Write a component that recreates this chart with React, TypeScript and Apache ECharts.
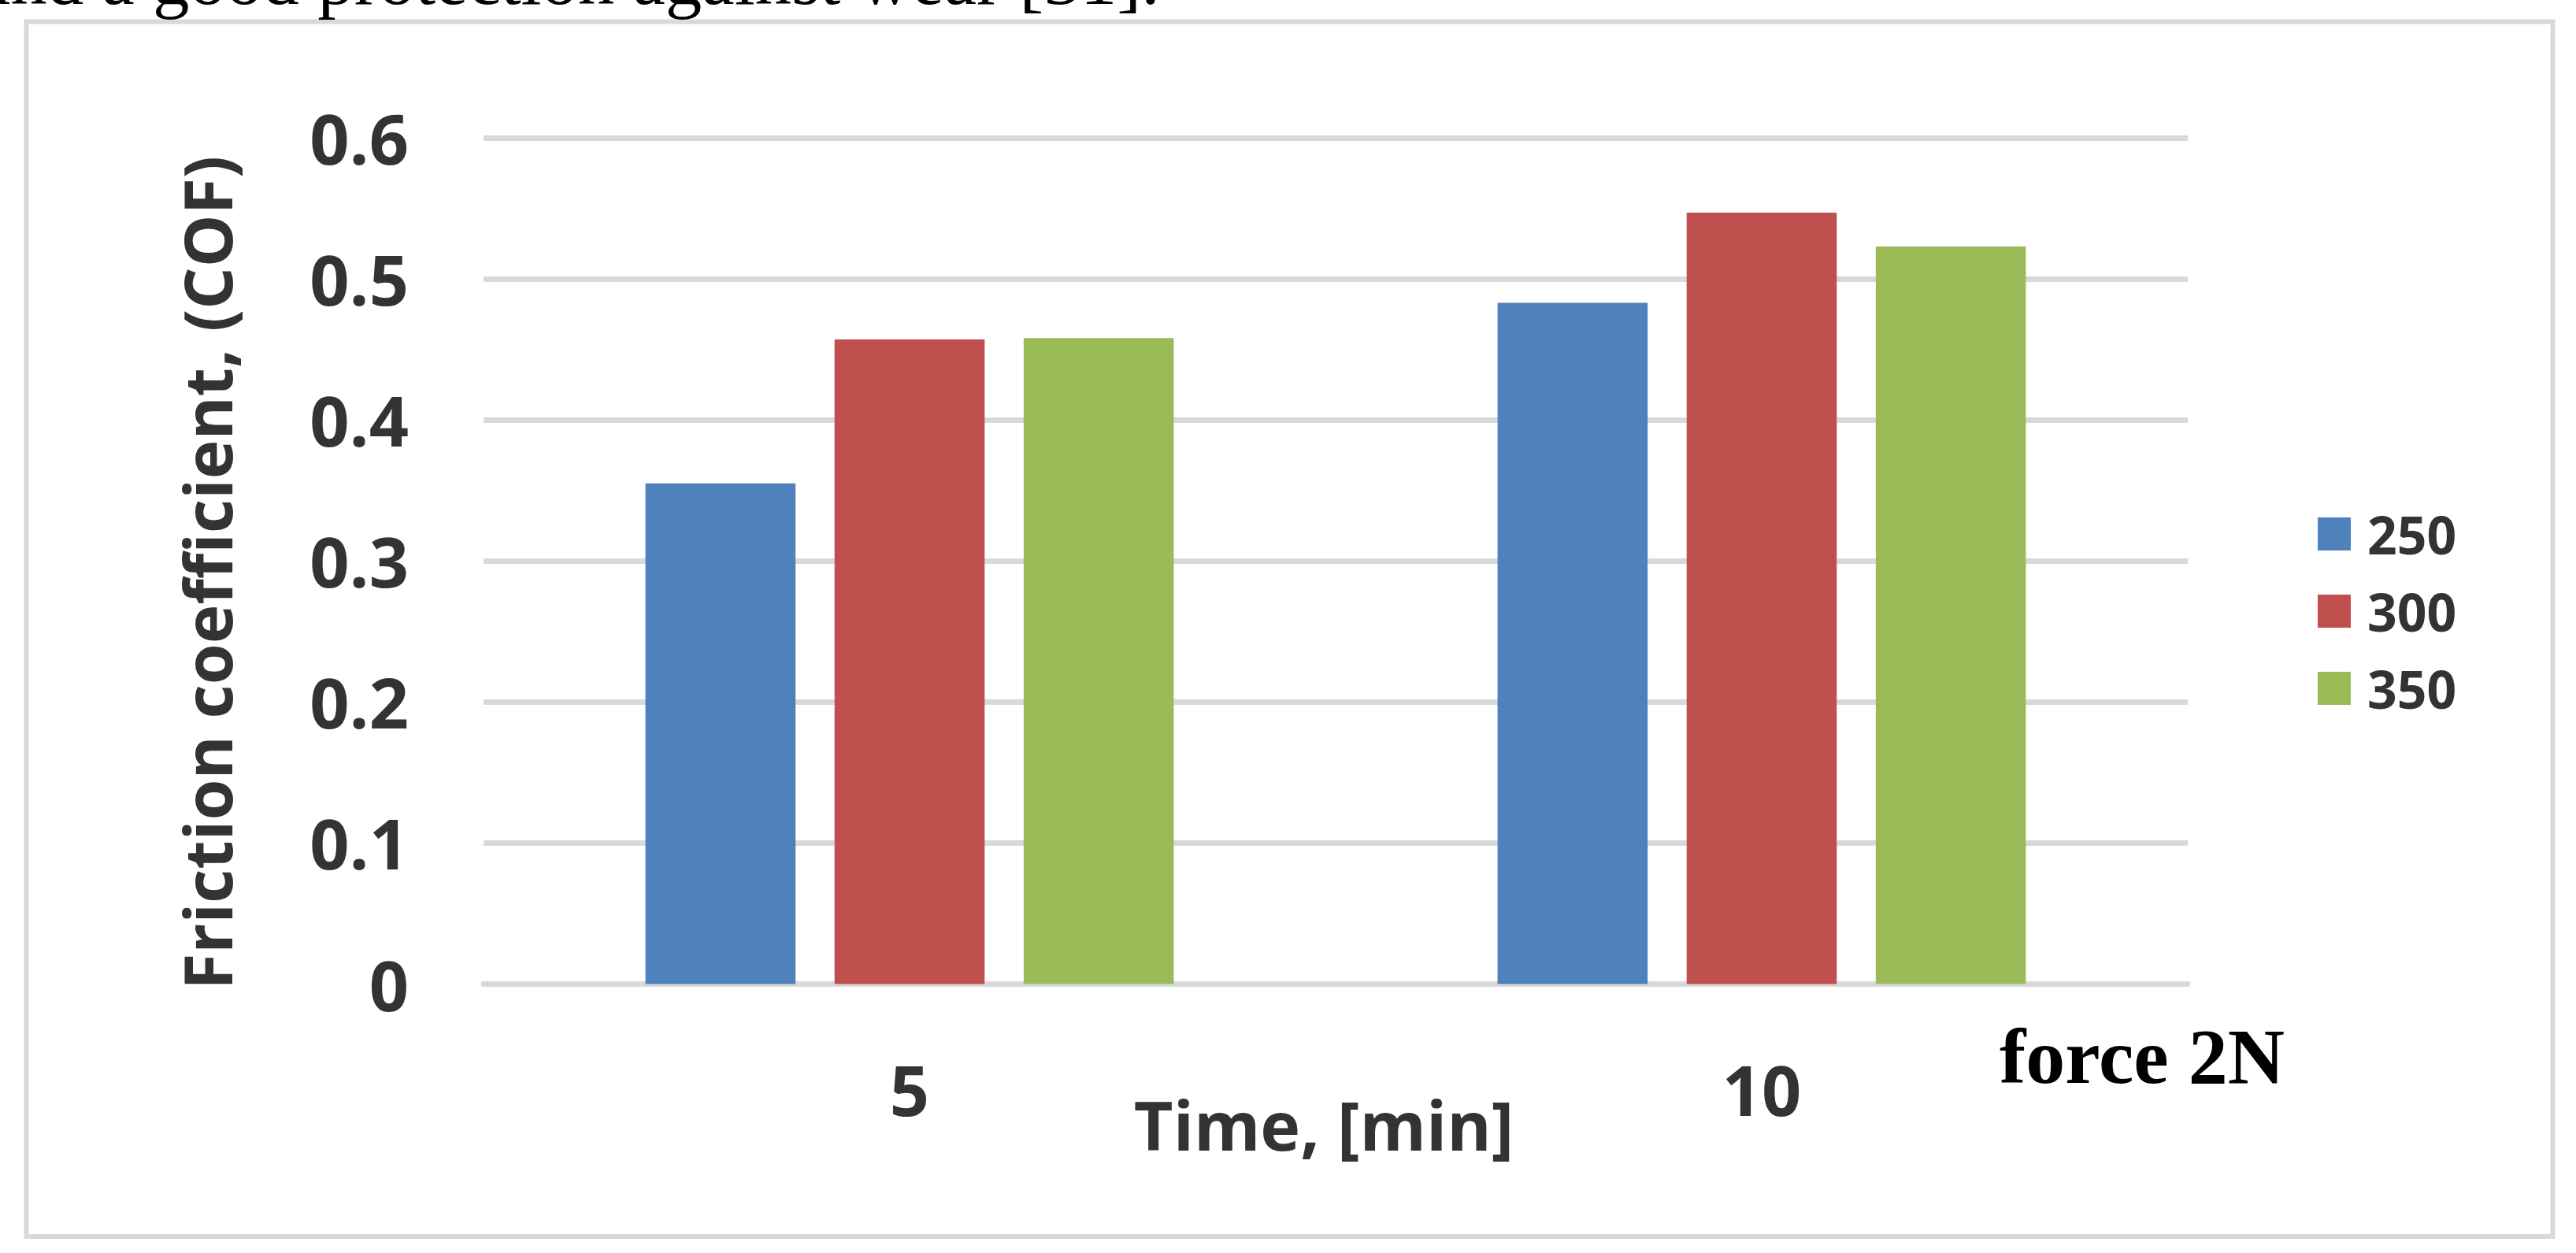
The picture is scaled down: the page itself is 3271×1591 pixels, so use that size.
import { useEffect, useRef } from "react";
import * as echarts from "echarts";

// chart values
const categories = ["5", "10"];
const seriesNames = ["250", "300", "350"];
const values250 = [0.355, 0.483];
const values300 = [0.457, 0.547];
const values350 = [0.458, 0.523];
const seriesColors = ["#4f81bd", "#c0504d", "#9bbb59"];
const yMin = 0;
const yMax = 0.6;
const yStep = 0.1;

const clippedLine = "and a good protection against wear [31].";
const forceNote = "force 2N";

const LABEL_FONT = "'Open Sans', 'Noto Sans', sans-serif";
const SERIF_FONT = "'Liberation Serif', 'DejaVu Serif', serif";
const TEXT_COLOR = "#333333";
const GRID_COLOR = "#d9d9d9";

export default function App() {
  const reference = useRef<HTMLDivElement>(null);

  useEffect(() => {
    const element = reference.current;
    if (element === null) return;
    const chart = echarts.init(element, undefined, { renderer: "svg" });
    const allValues = [values250, values300, values350];

    chart.setOption({
      animation: false,
      backgroundColor: "#ffffff",
      color: seriesColors,
      grid: { left: 614, top: 175, width: 2164, height: 1074.5 },
      legend: {
        orient: "vertical",
        left: 2938,
        top: 640,
        itemWidth: 42,
        itemHeight: 42,
        itemGap: 32,
        icon: "rect",
        selectedMode: false,
        data: seriesNames,
        textStyle: {
          fontFamily: LABEL_FONT,
          fontWeight: "bold",
          fontSize: 66,
          color: TEXT_COLOR,
          padding: [0, 0, 0, 16],
        },
      },
      xAxis: {
        type: "category",
        data: categories,
        name: "Time, [min]",
        nameLocation: "middle",
        nameGap: 135,
        nameMoveOverlap: false,
        nameTextStyle: {
          fontFamily: LABEL_FONT,
          fontWeight: "bold",
          fontSize: 86,
          color: TEXT_COLOR,
          padding: [0, 30, 0, 0],
        },
        axisTick: { show: false },
        axisLine: { lineStyle: { color: GRID_COLOR, width: 7 } },
        axisLabel: {
          margin: 89,
          fontFamily: LABEL_FONT,
          fontWeight: "bold",
          fontSize: 88,
          color: TEXT_COLOR,
        },
      },
      yAxis: {
        type: "value",
        min: yMin,
        max: yMax,
        interval: yStep,
        name: "Friction coefficient, (COF)",
        nameLocation: "middle",
        nameGap: 310,
        nameMoveOverlap: false,
        nameTextStyle: {
          fontFamily: LABEL_FONT,
          fontWeight: "bold",
          fontSize: 84,
          color: TEXT_COLOR,
          padding: [0, 30, 0, 0],
        },
        axisLine: { show: false },
        axisTick: { show: false },
        splitLine: { lineStyle: { color: GRID_COLOR, width: 7 } },
        axisLabel: {
          margin: 95,
          fontFamily: LABEL_FONT,
          fontWeight: "bold",
          fontSize: 88,
          color: TEXT_COLOR,
        },
      },
      series: seriesNames.map((name, index) => ({
        name,
        type: "bar",
        barCategoryGap: "38%",
        barGap: "26%",
        data: allValues[index],
      })),
      graphic: [
        {
          type: "rect",
          z: -1,
          shape: { x: 33.5, y: 27.5, width: 3208, height: 1542.5 },
          style: { fill: "none", stroke: GRID_COLOR, lineWidth: 6 },
        },
        {
          // body-text line of the page, cut by the top edge as in the source
          type: "text",
          x: -28,
          y: -27,
          style: {
            text: clippedLine,
            fontFamily: SERIF_FONT,
            fontSize: 93,
            fill: "#000000",
            textAlign: "left",
            textVerticalAlign: "middle",
          },
        },
        {
          type: "text",
          x: 2539,
          y: 1341,
          style: {
            text: forceNote,
            fontFamily: SERIF_FONT,
            fontWeight: "bold",
            fontSize: 100,
            fill: "#000000",
            textAlign: "left",
            textVerticalAlign: "middle",
          },
        },
      ],
    });

    return () => {
      chart.dispose();
    };
  }, []);

  return (
    <div
      ref={reference}
      style={{
        position: "fixed",
        left: 0,
        top: 0,
        width: 3271,
        height: 1591,
      }}
    />
  );
}
